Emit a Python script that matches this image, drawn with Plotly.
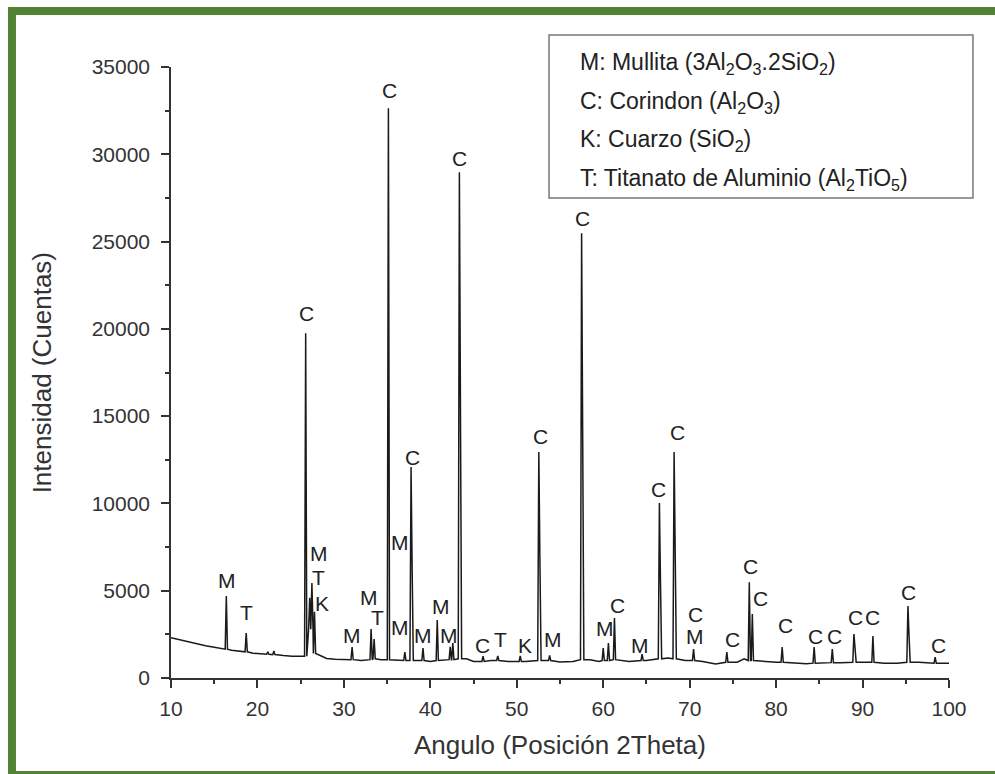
import plotly.graph_objects as go

# ---- data ----
base_x = [10, 11, 12, 13, 14, 15, 16, 17, 18, 19.5, 20.5, 22.5, 23, 24, 25, 27.2, 28, 29, 30, 32,
          34.3, 36.5, 38.5, 40, 44.2, 45, 47, 49, 51, 53, 55, 56.5, 58.5, 59.5, 62, 63, 65, 67.5,
          69.5, 71.5, 73, 75.5, 76.3, 78.5, 80, 82, 83.5, 85.5, 87.5, 88.3, 90, 92.5, 94, 96.5,
          97.5, 99.5, 100]
base_y = [2300, 2180, 2060, 1950, 1850, 1760, 1680, 1590, 1520, 1420, 1380, 1330, 1290, 1250, 1250,
          1300, 1120, 1080, 1050, 1000, 1050, 1000, 1000, 950, 1100, 950, 1000, 950, 950, 1000, 920,
          950, 1050, 950, 1000, 950, 1000, 1150, 1000, 950, 800, 900, 1100, 950, 900, 880, 820, 880,
          880, 900, 900, 850, 850, 900, 880, 850, 850]

peak_x = [16.4, 18.7, 21.2, 21.9, 25.58, 26.05, 26.3, 26.6, 30.95, 33.15, 33.5, 35.15, 37.05,
          37.77, 39.15, 40.8, 42.3, 42.6, 43.36, 46.1, 47.8, 50.4, 52.55, 53.8, 57.5, 60.0, 60.6,
          61.3, 64.5, 66.5, 68.2, 70.45, 74.3, 76.9, 77.25, 80.7, 84.4, 86.5, 89.0, 91.2, 95.25, 98.4]
peak_top = [4700, 2580, 1500, 1550, 19750, 4600, 5440, 3800, 1775, 2800, 2230, 32640, 1490,
            12080, 1720, 3320, 1780, 2000, 28970, 1250, 1260, 1260, 12940, 1300, 25480, 1720, 2000,
            3430, 1370, 10020, 12940, 1660, 1490, 5490, 3660, 1770, 1770, 1660, 2520, 2400, 4120, 1200]
peak_foot = [1650, 1500, 1360, 1340, 1250, 2800, 2800, 1400, 1050, 1050, 1100, 1050, 1000,
             1000, 1000, 1000, 1050, 1050, 1100, 950, 1000, 950, 1000, 1000, 1050, 1000, 1000,
             1050, 1000, 1100, 1100, 1000, 900, 1000, 1000, 900, 850, 880, 900, 900, 900, 850]
peak_ka2 = [0, 0, 0, 0, 0, 0, 0, 0, 0, 0, 0, 0, 0,
            6500, 0, 0, 0, 0, 15800, 0, 0, 0, 7000, 0, 14200, 0, 0,
            0, 0, 5600, 7300, 0, 0, 0, 0, 0, 0, 0, 1700, 0, 2500, 0]

label_text = ["M", "T", "C", "M", "T", "K", "M", "M", "T", "C", "M", "M", "C", "M", "M", "M",
              "C", "C", "T", "K", "C", "M", "C", "M", "C", "M", "C", "C", "C", "M", "C", "C", "C",
              "C", "C", "C", "C", "C", "C", "C"]
label_x = [16.48, 18.68, 25.62, 27.12, 27.12, 27.47, 30.94, 32.9, 33.83, 35.22, 36.5, 36.5, 37.95,
           39.15, 41.2, 42.16, 43.32, 46.0, 48.06, 50.95, 52.69, 54.19, 57.55, 60.2, 61.6, 64.26,
           66.34, 68.54, 70.62, 70.62, 75.0, 76.98, 78.14, 81.03, 84.5, 86.8, 89.13, 91.2, 95.26, 98.73]
label_y = [5610, 3780, 20900, 7160, 5730, 4290, 2460, 4640, 3490, 33670, 7790, 2920, 12650,
           2460, 4070, 2460, 29780, 1890, 2180, 1890, 13860, 2180, 26340, 2860, 4180, 1890,
           10820, 14090, 3610, 2350, 2180, 6360, 4580, 3030, 2350, 2350, 3440, 3440, 4870, 1890]

legend_lines = [
    "M: Mullita (3Al<sub>2</sub>O<sub>3</sub>.2SiO<sub>2</sub>)",
    "C: Corindon (Al<sub>2</sub>O<sub>3</sub>)",
    "K: Cuarzo (SiO<sub>2</sub>)",
    "T: Titanato de Aluminio (Al<sub>2</sub>TiO<sub>5</sub>)",
]

x_ticks = [10, 20, 30, 40, 50, 60, 70, 80, 90, 100]
x_minor = [15, 25, 35, 45, 55, 65, 75, 85, 95]
y_ticks = [0, 5000, 10000, 15000, 20000, 25000, 30000, 35000]
y_tick_text = ["0", "5000", "10000", "15000", "20000", "25000", "30000", "35000"]
y_minor = [2500, 7500, 12500, 17500, 22500, 27500, 32500]

# ---- build the diffractogram trace ----
pts = []
for bx, by in zip(base_x, base_y):
    if all(abs(bx - p) > 0.35 for p in peak_x):
        pts.append((bx, by))
for p, t, f, k in zip(peak_x, peak_top, peak_foot, peak_ka2):
    pts.append((p - 0.13, f))
    pts.append((p, t))
    if k:
        pts.append((p + 0.12, k))
        pts.append((p + 0.26, f))
    else:
        pts.append((p + 0.13, f))
pts.sort()
xs = [q[0] for q in pts]
ys = [q[1] for q in pts]

FONT = "Liberation Sans, Arial, Helvetica, sans-serif"
INK = "#333333"

fig = go.Figure()
fig.add_trace(go.Scatter(x=xs, y=ys, mode="lines",
                         line=dict(color="#1a1a1a", width=1.5), hoverinfo="skip"))

annotations = []
for t, x, y in zip(label_text, label_x, label_y):
    annotations.append(dict(x=x, y=y, xref="x", yref="y", text=t, showarrow=False,
                            xanchor="center", yanchor="middle",
                            font=dict(family=FONT, size=21, color="#222222")))

legend_y = [1.006, 0.942, 0.880, 0.816]
for txt, ly in zip(legend_lines, legend_y):
    annotations.append(dict(x=0.523, y=ly, xref="paper", yref="paper", text=txt,
                            showarrow=False, xanchor="left", yanchor="middle",
                            font=dict(family=FONT, size=23, color="#222222")))

annotations.append(dict(x=-0.166, y=0.5, xref="paper", yref="paper",
                        text="Intensidad (Cuentas)", textangle=-90, showarrow=False,
                        xanchor="center", yanchor="middle",
                        font=dict(family=FONT, size=26, color=INK)))
annotations.append(dict(x=0.5, y=-0.110, xref="paper", yref="paper",
                        text="Angulo (Posición 2Theta)", showarrow=False,
                        xanchor="center", yanchor="middle",
                        font=dict(family=FONT, size=26, color=INK)))

shapes = [
    dict(type="rect", xref="paper", yref="paper", x0=0.4859, x1=1.0308, y0=0.7856, y1=1.0524,
         line=dict(color="#777777", width=1.5), fillcolor="rgba(0,0,0,0)"),
    dict(type="rect", xref="paper", yref="paper", x0=-0.2044, x1=1.075, y0=-0.1588, y1=1.0917,
         line=dict(color="rgb(84,130,53)", width=8), fillcolor="rgba(0,0,0,0)"),
]

axis_common = dict(showline=True, linecolor=INK, linewidth=1.5, ticks="outside", ticklen=8,
                   tickwidth=1.5, tickcolor=INK, showgrid=False, zeroline=False,
                   tickfont=dict(family=FONT, size=21, color=INK))

fig.update_layout(
    width=995, height=774, autosize=False,
    margin=dict(l=171, r=46, t=67, b=96),
    plot_bgcolor="white", paper_bgcolor="white", showlegend=False,
    font=dict(family=FONT, color=INK),
    xaxis=dict(range=[10, 100], tickvals=x_ticks, ticklabelstandoff=3,
               minor=dict(ticks="outside", ticklen=4, tickwidth=1.5, tickcolor=INK,
                          tickvals=x_minor),
               **axis_common),
    yaxis=dict(range=[0, 35000], tickvals=y_ticks, ticktext=y_tick_text, ticklabelstandoff=7,
               minor=dict(ticks="outside", ticklen=4, tickwidth=1.5, tickcolor=INK,
                          tickvals=y_minor),
               **axis_common),
    annotations=annotations,
    shapes=shapes,
)

fig.write_html("out.html")
